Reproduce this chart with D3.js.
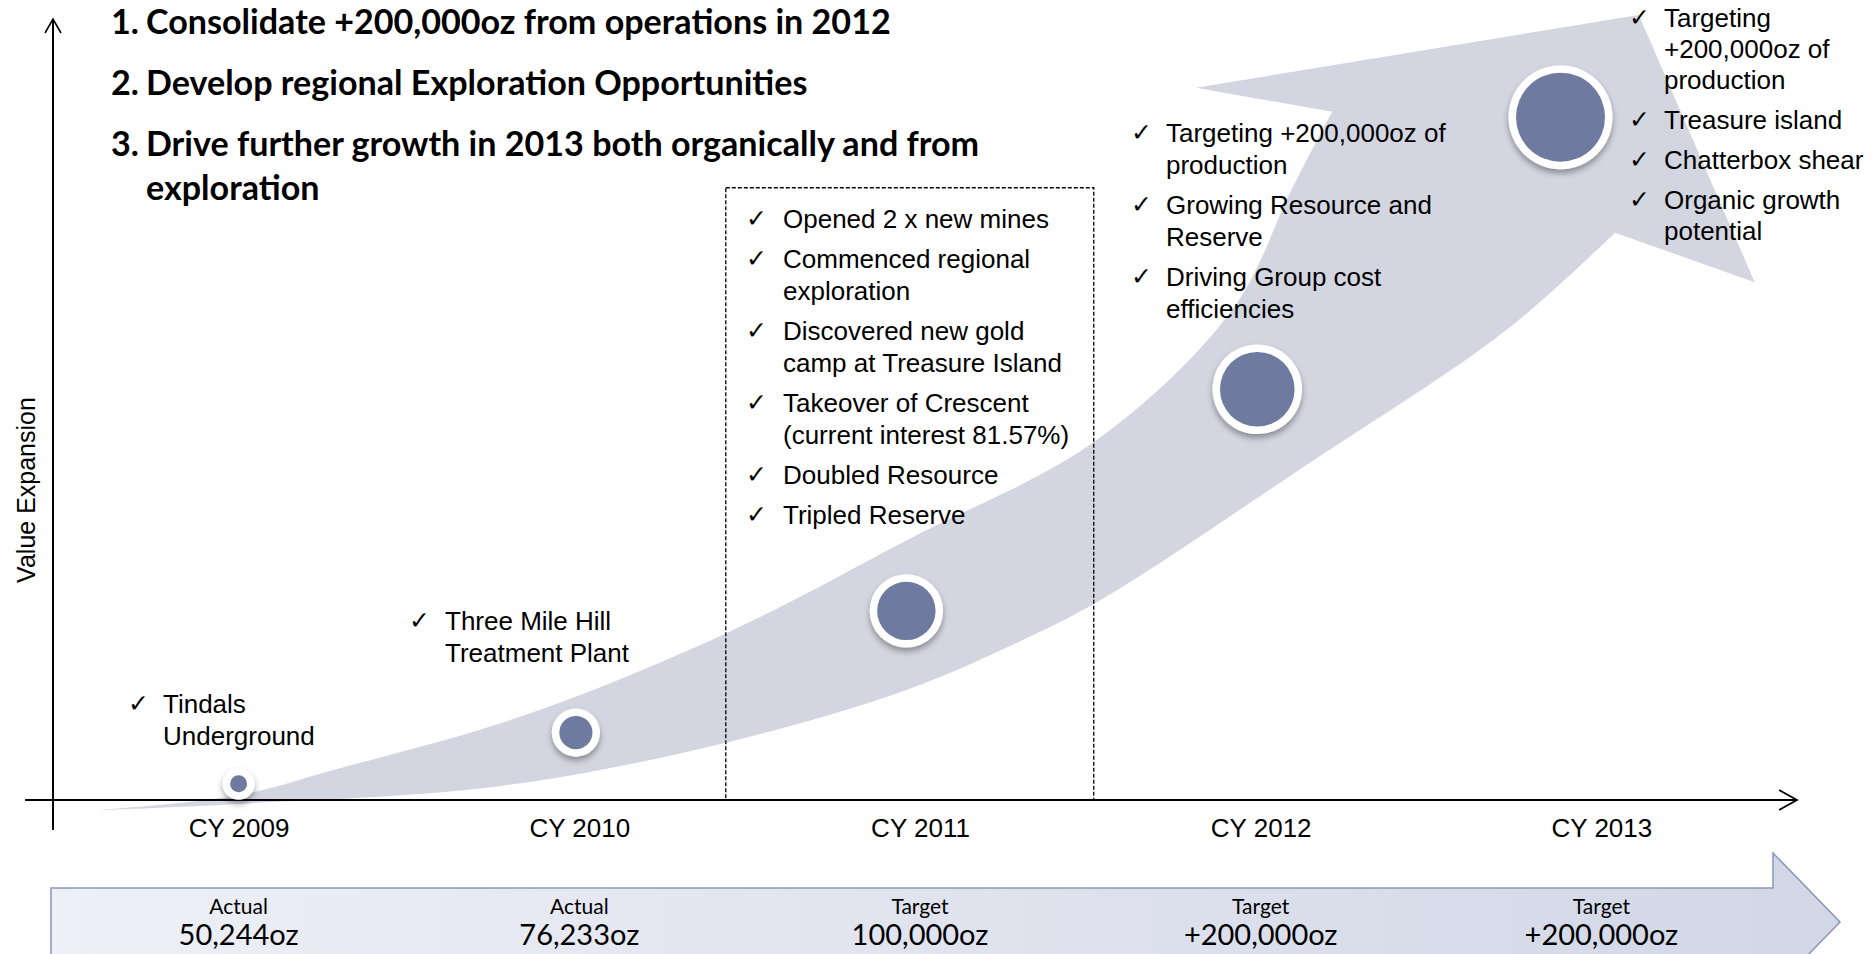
<!DOCTYPE html>
<html>
<head>
<meta charset="utf-8">
<script src="https://cdn.jsdelivr.net/npm/d3@7"></script>
<style>
  body { margin: 0; background: #fff; }
  svg { display: block; }
</style>
</head>
<body>
<div class="container"></div>
<script>
const W = 1875;
const H = 954;

// categories on the time axis
const years = [2009, 2010, 2011, 2012, 2013];

// milestone bubbles: position in year / value units, and relative weight
const milestoneYear = [2009.0, 2009.99, 2010.96, 2011.99, 2012.88];
const milestoneValue = [2.1, 8.7, 24.4, 53.0, 88.1];
const milestoneWeight = [1.0, 1.9, 3.3, 4.2, 5.0];

// growth band (year, value) – upper edge, lower edge and arrow head
const bandUpper = [
  [2008.59, -1.3], [2009.0, 0.6], [2009.28, 3.9], [2009.83, 10.8],
  [2010.43, 21.5], [2010.96, 33.5], [2011.52, 46.5], [2011.92, 63.5],
  [2012.09, 78.7], [2012.21, 88.8],
];
const bandLower = [
  [2008.59, -1.3], [2009.0, -0.5], [2009.77, 1.8], [2010.43, 7.4],
  [2010.96, 14.2], [2011.29, 20.4], [2011.53, 25.8], [2012.12, 42.8],
  [2012.72, 60.6], [2013.04, 73.2],
];
const bandHead = [[2011.81, 91.9], [2013.11, 101.3], [2013.45, 66.8]];

// 2011 highlight box (years, values)
const highlightYears = [2010.43, 2011.51];
const highlightValues = [0, 79];

// bottom banner
const bannerKind = ['Actual', 'Actual', 'Target', 'Target', 'Target'];
const bannerOunces = ['50,244oz', '76,233oz', '100,000oz', '+200,000oz', '+200,000oz'];

// headline goals
const goalNumbers = ['1.', '2.', '3.'];
const goalLines = [
  ['Consolidate +200,000oz from operations in 2012'],
  ['Develop regional Exploration Opportunities'],
  ['Drive further growth in 2013 both organically and from', 'exploration'],
];

// notes per year (each item = wrapped lines)
const notes2009 = [['Tindals', 'Underground']];
const notes2010 = [['Three Mile Hill', 'Treatment Plant']];
const notes2011 = [
  ['Opened 2 x new mines'],
  ['Commenced regional', 'exploration'],
  ['Discovered new gold', 'camp at Treasure Island'],
  ['Takeover of Crescent', '(current interest 81.57%)'],
  ['Doubled Resource'],
  ['Tripled Reserve'],
];
const notes2012 = [
  ['Targeting +200,000oz of', 'production'],
  ['Growing Resource and', 'Reserve'],
  ['Driving Group cost', 'efficiencies'],
];
const notes2013 = [
  ['Targeting', '+200,000oz of', 'production'],
  ['Treasure island'],
  ['Chatterbox shear'],
  ['Organic growth', 'potential'],
];

const svg = d3.select('.container').append('svg')
  .attr('width', W).attr('height', H);

const x = d3.scaleLinear().domain([2009, 2013]).range([238.6, 1601.4]);
const y = d3.scaleLinear().domain([0, 100]).range([800, 25]);
const r = d3.scaleLinear().domain([1, 5]).range([16, 52]);

const defs = svg.append('defs');
const shadow = defs.append('filter').attr('id', 'shadow')
  .attr('x', '-30%').attr('y', '-30%').attr('width', '160%').attr('height', '170%');
shadow.append('feDropShadow')
  .attr('dx', 0).attr('dy', 4).attr('stdDeviation', 3)
  .attr('flood-color', '#000').attr('flood-opacity', 0.35);

const grad = defs.append('linearGradient').attr('id', 'banner');
grad.append('stop').attr('offset', '0%').attr('stop-color', '#eef0f7');
grad.append('stop').attr('offset', '100%').attr('stop-color', '#d2d7e6');

// ---- growth band
const edge = d3.line().x((d) => x(d[0])).y((d) => y(d[1])).curve(d3.curveCatmullRom);
const upperStr = edge(bandUpper);
const lowerStr = edge(bandLower.slice().reverse());
const headStr = bandHead.map((d) => `L${x(d[0])},${y(d[1])}`).join('');
svg.append('path')
  .attr('d', upperStr + headStr + 'L' + lowerStr.slice(1) + 'Z')
  .attr('fill', '#d3d6e0');

// ---- highlight box
svg.append('rect')
  .attr('x', x(highlightYears[0]))
  .attr('y', y(highlightValues[1]))
  .attr('width', x(highlightYears[1]) - x(highlightYears[0]))
  .attr('height', y(highlightValues[0]) - y(highlightValues[1]))
  .attr('fill', 'none')
  .attr('stroke', '#000')
  .attr('stroke-width', 1.3)
  .attr('stroke-dasharray', '4,2');

// ---- axes
const axisG = svg.append('g');
axisG.append('line')
  .attr('x1', 53).attr('x2', 53).attr('y1', 830).attr('y2', 20)
  .attr('stroke', '#000').attr('stroke-width', 2);
axisG.append('path')
  .attr('d', 'M45,33 L53,19 L61,33')
  .attr('fill', 'none').attr('stroke', '#000').attr('stroke-width', 1.6);
axisG.append('line')
  .attr('x1', 25).attr('x2', 1796).attr('y1', y(0)).attr('y2', y(0))
  .attr('stroke', '#000').attr('stroke-width', 2.2);
axisG.append('path')
  .attr('d', `M1779,${y(0) - 10} L1797,${y(0)} L1779,${y(0) + 10}`)
  .attr('fill', 'none').attr('stroke', '#000').attr('stroke-width', 1.8);

const xAxis = d3.axisBottom(x)
  .tickValues(years)
  .tickFormat((d) => 'CY ' + d)
  .tickSize(0)
  .tickPadding(19);
const xg = svg.append('g').attr('transform', `translate(0,${y(0)})`).call(xAxis);
xg.select('.domain').remove();
xg.selectAll('text')
  .attr('font-family', 'Liberation Sans, Arial, sans-serif')
  .attr('font-size', '26px')
  .attr('fill', '#000');

svg.append('text')
  .attr('transform', 'translate(35,490) rotate(-90)')
  .attr('text-anchor', 'middle')
  .attr('font-family', 'Liberation Sans, Arial, sans-serif')
  .attr('font-size', '25px')
  .attr('fill', '#000')
  .text('Value Expansion');

// ---- milestone bubbles
const milestones = years.map((yr, i) => ({
  year: milestoneYear[i], value: milestoneValue[i], weight: milestoneWeight[i],
}));
const bubbles = svg.selectAll('g.bubble').data(milestones).enter()
  .append('g').attr('class', 'bubble')
  .attr('transform', (d) => `translate(${x(d.year)},${y(d.value)})`);
bubbles.append('circle')
  .attr('r', (d) => r(d.weight))
  .attr('fill', '#fff')
  .attr('filter', 'url(#shadow)');
bubbles.append('circle')
  .attr('r', (d) => r(d.weight) - 7.5)
  .attr('fill', '#6f7aa1');

// ---- note lists
function addNotes(items, checkX, textX, firstBaseline, lineGap, itemGap) {
  const g = svg.append('g')
    .attr('font-family', 'Liberation Sans, Arial, sans-serif')
    .attr('font-size', '26px')
    .attr('fill', '#000');
  let base = firstBaseline;
  items.forEach((lines) => {
    g.append('text')
      .attr('x', checkX).attr('y', base - 1)
      .attr('font-family', 'DejaVu Sans, sans-serif')
      .attr('font-size', '25px')
      .text('\u2713');
    lines.forEach((ln, j) => {
      g.append('text')
        .attr('x', textX).attr('y', base + j * lineGap)
        .text(ln);
    });
    base += (lines.length - 1) * lineGap + itemGap;
  });
}
addNotes(notes2009, 128, 163, 713, 32, 40);
addNotes(notes2010, 409, 445, 630, 32, 40);
addNotes(notes2011, 746, 783, 228, 32, 40);
addNotes(notes2012, 1131, 1166, 142, 32, 40);
addNotes(notes2013, 1629, 1664, 27, 31, 40);

// ---- headline goals
const goalG = svg.append('g')
  .attr('font-family', 'Lato, sans-serif')
  .attr('font-weight', 'bold')
  .attr('fill', '#000');
const goalBase = [34, 95, 156];
const goalWrap = 44;
const probe = goalG.append('text').attr('font-size', '30px').text(goalLines[0][0]);
const goalSize = 30 * 745 / probe.node().getComputedTextLength();
probe.remove();
goalG.attr('font-size', goalSize + 'px');
goalLines.forEach((lines, i) => {
  goalG.append('text').attr('x', 111).attr('y', goalBase[i]).text(goalNumbers[i]);
  lines.forEach((ln, j) => {
    goalG.append('text').attr('x', 146).attr('y', goalBase[i] + j * goalWrap).text(ln);
  });
});

// ---- bottom banner arrow
svg.append('path')
  .attr('d', 'M51,888 H1773 V853 L1840,922 L1773,991 V956 H51 Z')
  .attr('fill', 'url(#banner)')
  .attr('stroke', '#8a95b8')
  .attr('stroke-width', 1.5);

const banner = svg.selectAll('g.banner').data(years).enter()
  .append('g').attr('class', 'banner')
  .attr('font-family', 'Lato, sans-serif')
  .attr('text-anchor', 'middle')
  .attr('fill', '#000');
banner.append('text')
  .attr('x', (d) => x(d)).attr('y', 914)
  .attr('font-size', '21px')
  .text((d, i) => bannerKind[i]);
banner.append('text')
  .attr('x', (d) => x(d)).attr('y', 945)
  .attr('font-size', '29px')
  .text((d, i) => bannerOunces[i]);
</script>
</body>
</html>
